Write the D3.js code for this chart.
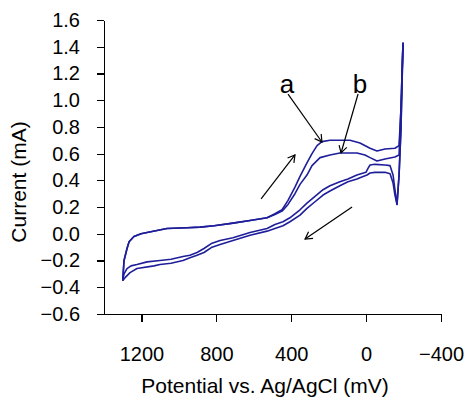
<!DOCTYPE html>
<html>
<head>
<meta charset="utf-8">
<script src="https://cdn.jsdelivr.net/npm/d3@7"></script>
<style>
  html, body { margin: 0; padding: 0; background: #ffffff; }
  svg { display: block; }
  text { font-family: "Liberation Sans", Arial, sans-serif; fill: #000; }
</style>
</head>
<body>
<div id="chart"></div>
<script>
// ---- data (potential mV, current mA) ----
const xTicks = [1200, 800, 400, 0, -400];
const yTicks = [-0.6, -0.4, -0.2, 0.0, 0.2, 0.4, 0.6, 0.8, 1.0, 1.2, 1.4, 1.6];

// curve a: forward (upper) branch
const curveAUpper = [
  [1300,-0.35],[1293,-0.20],[1277,-0.11],[1266,-0.06],[1240,-0.02],[1202,0.00],[1170,0.01],
  [1064,0.04],[957,0.045],[887,0.05],[812,0.06],[711,0.08],[620,0.10],[529,0.12],[487,0.15],
  [449,0.18],[417,0.25],[380,0.35],[353,0.43],[316,0.53],[289,0.60],[262,0.66],[236,0.69],
  [193,0.70],[86,0.70],[33,0.68],[-21,0.64],[-58,0.62],[-101,0.635],[-154,0.64],[-176,0.66],
  [-186,0.93],[-197,1.43]
];
// curve a: reverse (lower) branch
const curveALower = [
  [-197,1.43],[-186,0.78],[-176,0.44],[-165,0.22],[-154,0.29],[-144,0.38],[-128,0.45],
  [-101,0.46],[-47,0.46],[-21,0.455],[-5,0.44],[33,0.42],[49,0.41],[97,0.39],[140,0.36],
  [193,0.32],[230,0.29],[273,0.24],[316,0.19],[353,0.14],[407,0.09],[444,0.06],[487,0.04],
  [529,0.02],[620,-0.01],[711,-0.05],[780,-0.08],[823,-0.10],[866,-0.14],[903,-0.16],
  [941,-0.18],[978,-0.20],[1042,-0.22],[1101,-0.23],[1133,-0.24],[1224,-0.26],[1261,-0.29],
  [1282,-0.32],[1300,-0.35]
];
// curve b: forward (upper) branch
const curveBUpper = [
  [1300,-0.35],[1293,-0.20],[1277,-0.11],[1266,-0.06],[1240,-0.02],[1202,0.00],[1170,0.01],
  [1064,0.04],[957,0.045],[887,0.05],[812,0.06],[711,0.08],[620,0.10],[529,0.12],[487,0.145],
  [449,0.17],[417,0.22],[380,0.30],[353,0.37],[316,0.44],[289,0.51],[246,0.57],[193,0.59],
  [140,0.605],[49,0.605],[6,0.59],[-21,0.57],[-58,0.545],[-101,0.56],[-154,0.575],[-176,0.59],
  [-186,0.93],[-197,1.43]
];
// curve b: reverse (lower) branch
const curveBLower = [
  [-197,1.43],[-186,0.78],[-176,0.44],[-165,0.22],[-154,0.33],[-144,0.44],[-128,0.51],
  [-101,0.515],[-47,0.52],[-21,0.515],[-10,0.49],[1,0.46],[49,0.44],[97,0.41],[140,0.39],
  [193,0.36],[230,0.33],[273,0.28],[316,0.23],[353,0.18],[407,0.12],[444,0.09],[487,0.07],
  [529,0.04],[620,0.01],[711,-0.03],[780,-0.05],[823,-0.07],[866,-0.11],[903,-0.14],
  [941,-0.16],[978,-0.17],[1042,-0.19],[1101,-0.20],[1170,-0.21],[1224,-0.23],[1256,-0.24],
  [1277,-0.26],[1293,-0.30],[1300,-0.35]
];

// annotations (data units)
const sweepArrows = [
  [[561,0.261],[380,0.590]],
  [[75,0.201],[326,-0.039]]
];
const labelNames = ["a", "b"];
const labelPos = [[423,1.054],[33,1.054]];
const labelArrows = [
  [[417,1.046],[236,0.687]],
  [[43,1.046],[134,0.605]]
];

// ---- drawing ----
const W = 466, H = 400;
const svg = d3.select("#chart").append("svg").attr("width", W).attr("height", H);
svg.append("rect").attr("width", W).attr("height", H).attr("fill", "#fff");

const x = d3.scaleLinear().domain([1400, -400]).range([104, 441]);
const y = d3.scaleLinear().domain([-0.6, 1.6]).range([314, 20]);

const yAxis = d3.axisLeft(y).tickValues(yTicks).tickFormat(d3.format(".1f"))
  .tickSize(7).tickSizeOuter(0).tickPadding(17);
const xAxis = d3.axisBottom(x).tickValues(xTicks).tickFormat(d3.format("d"))
  .tickSize(8).tickSizeOuter(0).tickPadding(25);

const gy = svg.append("g").attr("transform", "translate(104,0)").call(yAxis);
const gx = svg.append("g").attr("transform", "translate(0,314)").call(xAxis);
[gx, gy].forEach(g => {
  g.selectAll("path,line").attr("stroke", "#000").attr("stroke-width", 1.2).attr("shape-rendering", "crispEdges");
  g.selectAll("text").attr("font-size", 20).attr("font-family", "Liberation Sans, Arial, sans-serif").attr("fill", "#000");
});

svg.append("text").attr("x", 265).attr("y", 393).attr("text-anchor", "middle")
  .attr("font-size", 21).text("Potential vs. Ag/AgCl (mV)");
svg.append("text").attr("transform", "translate(26,182) rotate(-90)").attr("text-anchor", "middle")
  .attr("font-size", 21).text("Current (mA)");

const line = d3.line().x(d => x(d[0])).y(d => y(d[1]));
[curveAUpper, curveALower, curveBUpper, curveBLower].forEach(c => {
  svg.append("path").datum(c).attr("d", line).attr("fill", "none")
    .attr("stroke", "#1e1e9a").attr("stroke-width", 1.6).attr("stroke-linejoin", "round");
});

function arrow(p0, p1) {
  const x0 = x(p0[0]), y0 = y(p0[1]), x1 = x(p1[0]), y1 = y(p1[1]);
  const a = Math.atan2(y1 - y0, x1 - x0), L = 8, h = Math.PI / 6;
  svg.append("line").attr("x1", x0).attr("y1", y0).attr("x2", x1).attr("y2", y1)
    .attr("stroke", "#000").attr("stroke-width", 1.2);
  svg.append("path")
    .attr("d", `M${x1 - L*Math.cos(a - h)},${y1 - L*Math.sin(a - h)}L${x1},${y1}L${x1 - L*Math.cos(a + h)},${y1 - L*Math.sin(a + h)}`)
    .attr("fill", "none").attr("stroke", "#000").attr("stroke-width", 1.2);
}
sweepArrows.forEach(a => arrow(a[0], a[1]));
labelArrows.forEach(a => arrow(a[0], a[1]));
labelNames.forEach((n, i) => {
  svg.append("text").attr("x", x(labelPos[i][0])).attr("y", y(labelPos[i][1]))
    .attr("text-anchor", "middle").attr("font-size", 26).text(n);
});
</script>
</body>
</html>
